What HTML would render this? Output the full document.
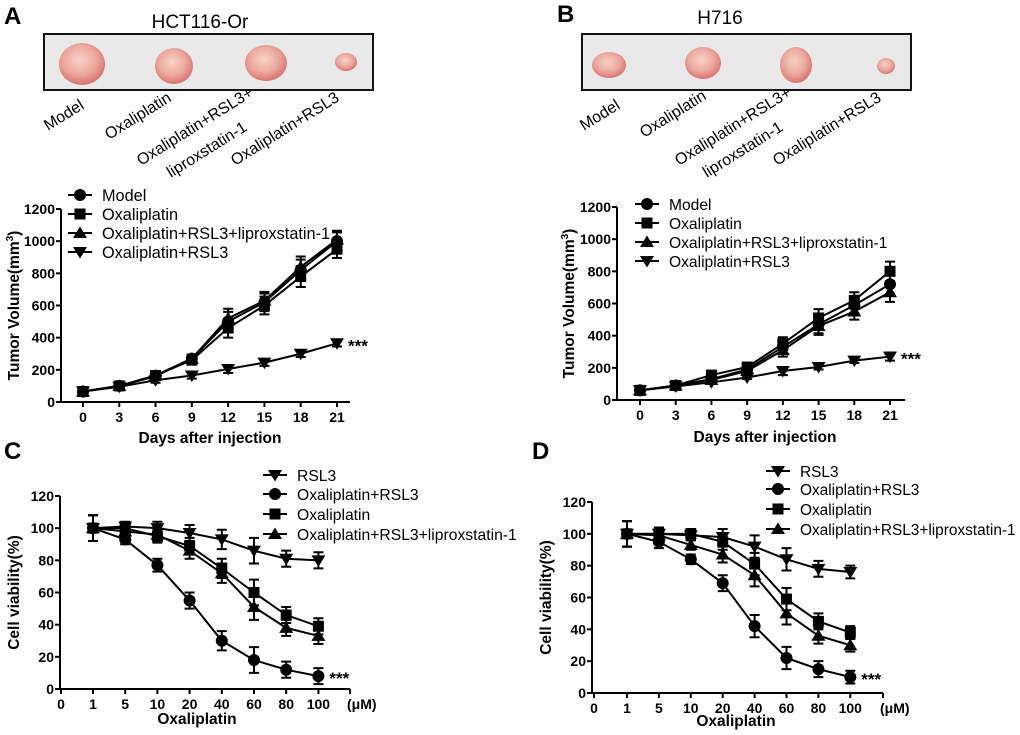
<!DOCTYPE html>
<html><head><meta charset="utf-8"><style>
html,body{margin:0;padding:0;background:#fff;}
svg{display:block;font-family:"Liberation Sans",Arial,sans-serif;}
.tk{font-size:14px;font-weight:bold;}
.ttl{font-size:15.5px;font-weight:bold;}
</style></head><body>
<svg id="fig" width="1020" height="735" viewBox="0 0 1020 735">
<defs>
<radialGradient id="tum" cx="45%" cy="40%" r="60%"><stop offset="0" stop-color="#f6d3c6"/><stop offset="0.6" stop-color="#eca79d"/><stop offset="1" stop-color="#d9736f"/></radialGradient>
</defs>
<text x="4" y="24" font-size="24" font-weight="bold">A</text>
<text x="200" y="28" font-size="19" text-anchor="middle">HCT116-Or</text>
<rect x="44" y="34" width="329" height="56" fill="#e9e9e9" stroke="#111" stroke-width="2"/>
<ellipse cx="82" cy="64" rx="23" ry="21" fill="url(#tum)"/>
<ellipse cx="174" cy="66" rx="19" ry="18" fill="url(#tum)"/>
<ellipse cx="266" cy="63" rx="21" ry="18" fill="url(#tum)"/>
<ellipse cx="346" cy="62" rx="11" ry="9" fill="url(#tum)"/>
<g font-size="16">
<text transform="translate(48,131) rotate(-32)">Model</text>
<text transform="translate(109,140) rotate(-32)">Oxaliplatin</text>
<text transform="translate(141,166) rotate(-32)">Oxaliplatin+RSL3+</text>
<text transform="translate(171,178) rotate(-32)">liproxstatin-1</text>
<text transform="translate(235,166) rotate(-32)">Oxaliplatin+RSL3</text>
</g>
<text x="557" y="22" font-size="24" font-weight="bold">B</text>
<text x="720" y="24" font-size="19" text-anchor="middle">H716</text>
<rect x="582" y="34" width="329" height="56" fill="#e9e9e9" stroke="#111" stroke-width="2"/>
<ellipse cx="609" cy="65" rx="17" ry="13" fill="url(#tum)"/>
<ellipse cx="703" cy="63" rx="18" ry="16" fill="url(#tum)"/>
<ellipse cx="796" cy="65" rx="16" ry="18" fill="url(#tum)"/>
<ellipse cx="886" cy="66" rx="9" ry="8" fill="url(#tum)"/>
<g font-size="16">
<text transform="translate(584,131) rotate(-32)">Model</text>
<text transform="translate(644,138) rotate(-32)">Oxaliplatin</text>
<text transform="translate(679,166) rotate(-32)">Oxaliplatin+RSL3+</text>
<text transform="translate(707,178) rotate(-32)">liproxstatin-1</text>
<text transform="translate(777,166) rotate(-32)">Oxaliplatin+RSL3</text>
</g>
<text x="4" y="459" font-size="24" font-weight="bold">C</text>
<text x="532" y="459" font-size="24" font-weight="bold">D</text>
<g id="charts"></g>
</svg>
<script>
const days = [0,3,6,9,12,15,18,21];
const aModel = [65,100,160,270,500,620,820,1000];
const aOxali = [65,100,165,260,460,600,780,950];
const aORL = [65,100,165,270,520,630,840,1010];
const aOR = [65,95,135,165,205,245,300,365];
const aErr = [10,12,20,25,60,55,65,55];
const aErrOR = [8,10,15,20,25,20,20,20];
const bModel = [60,90,130,190,330,470,590,720];
const bOxali = [60,90,155,205,350,510,620,800];
const bORL = [60,90,125,180,310,460,550,670];
const bOR = [60,85,110,140,180,205,245,270];
const bErr = [8,10,15,15,40,55,50,60];
const bErrOR = [6,8,10,10,25,15,15,25];
const tumorTicks = [0,200,400,600,800,1000,1200];
const concLabels = ["0","1","5","10","20","40","60","80","100"];
const cRSL3 = [100,101,100,97,93,86,81,80];
const cOR = [100,93,77,55,30,18,12,8];
const cOxali = [100,100,95,89,75,60,46,39];
const cORL = [100,98,96,86,72,51,38,33];
const cErr = [8,3,4,5,6,8,5,5];
const dRSL3 = [100,100,99,98,92,84,78,76];
const dOR = [100,95,84,69,42,22,15,10];
const dOxali = [100,100,100,95,81,59,45,38];
const dORL = [100,99,93,87,74,50,36,30];
const dErr = [8,4,3,5,7,7,5,4];
const viaTicks = [0,20,40,60,80,100,120];

const NS="http://www.w3.org/2000/svg";
const root=document.getElementById('charts');
function mk(tag,attrs,parent){const e=document.createElementNS(NS,tag);for(const k in attrs)e.setAttribute(k,attrs[k]);(parent||root).appendChild(e);return e;}
function marker(g,shape,x,y,s){
  if(shape==='circle')return mk('circle',{cx:x,cy:y,r:s*0.6,fill:'#000'},g);
  if(shape==='square')return mk('rect',{x:x-s*0.55,y:y-s*0.55,width:s*1.1,height:s*1.1,fill:'#000'},g);
  if(shape==='up')return mk('polygon',{points:`${x},${y-s*0.65} ${x-s*0.7},${y+s*0.5} ${x+s*0.7},${y+s*0.5}`,fill:'#000'},g);
  return mk('polygon',{points:`${x},${y+s*0.65} ${x-s*0.7},${y-s*0.5} ${x+s*0.7},${y-s*0.5}`,fill:'#000'},g);
}
function chart(cfg){
  const g=mk('g',{});
  
  
  const sy=v=>cfg.y0-(v-cfg.ymin)/(cfg.ymax-cfg.ymin)*(cfg.y0-cfg.y1);
  const ax=mk('path',{d:`M${cfg.ax},${cfg.y1} V${cfg.y0} H${cfg.axEnd}`,stroke:'#000','stroke-width':2,fill:'none'},g);
  
  
  cfg.yt.forEach(v=>{
    mk('line',{x1:cfg.ax-5,x2:cfg.ax,y1:sy(v),y2:sy(v),stroke:'#000','stroke-width':2},g);
    const t=mk('text',{x:cfg.ax-6,y:sy(v)+5,'text-anchor':'end',class:'tk'},g);t.textContent=v;
    
    
  });
  cfg.xlabels.forEach((lab,i)=>{
    const x=cfg.sx(i);
    mk('line',{x1:x,x2:x,y1:cfg.y0,y2:cfg.y0+5,stroke:'#000','stroke-width':2},g);
    const t=mk('text',{x:x,y:cfg.y0+20,'text-anchor':'middle',class:'tk'},g);t.textContent=lab;
    
    
  });
  if(cfg.unit){mk('line',{x1:cfg.axEnd,x2:cfg.axEnd,y1:cfg.y0,y2:cfg.y0+5,stroke:'#000','stroke-width':2},g);
    const u=mk('text',{x:cfg.axEnd-3,y:cfg.y0+20,class:'tk'},g);u.textContent='(μM)';
    
    }
  const yt=mk('text',{transform:`translate(${cfg.ytx},${(cfg.y0+cfg.y1)/2}) rotate(-90)`,'text-anchor':'middle',class:'ttl'},g);
  yt.innerHTML=cfg.ytitle;
  
  
  const xt=mk('text',{x:cfg.xtx,y:cfg.xty,'text-anchor':'middle',class:'ttl'},g);xt.textContent=cfg.xtitle;
  
  
  cfg.series.forEach(s=>{
    const sg=mk('g',{},g);
    
    
    const pts=s.v.map((v,i)=>[cfg.sx(i+cfg.off),sy(v)]);
    mk('polyline',{points:pts.map(p=>p.join(',')).join(' '),fill:'none',stroke:'#000','stroke-width':2},sg);
    s.v.forEach((v,i)=>{
      const x=pts[i][0],e=s.e[i];
      mk('path',{d:`M${x},${sy(v+e)} V${sy(v-e)} M${x-5},${sy(v+e)} H${x+5} M${x-5},${sy(v-e)} H${x+5}`,stroke:'#000','stroke-width':2,fill:'none'},sg);
      const m=marker(sg,s.shape,x,pts[i][1],10);
      
      
    });
  });
  const last=cfg.series.find(s=>s.star);
  const st=mk('text',{x:cfg.sx(last.v.length-1+cfg.off)+11,y:sy(last.v[last.v.length-1])+8,'font-size':'17','font-weight':'bold'},g);st.textContent='***';
  
  
  cfg.series.slice().sort((a,b)=>a.lo-b.lo).forEach((s,i)=>{
    const lg=mk('g',{},g);
    
    
    const y=cfg.lgY[i];
    mk('line',{x1:cfg.lgX-12,x2:cfg.lgX+12,y1:y,y2:y,stroke:'#000','stroke-width':2},lg);
    marker(lg,s.shape,cfg.lgX,y,10);
    const t=mk('text',{x:cfg.lgX+22,y:y+6,'font-size':cfg.lgFs},lg);t.textContent=s.label;
  });
}
const tumorSx=(x0,x1)=>i=>x0+(x1-x0)*days[i]/21;
const concSx=(xa,x1,step)=>i=>i===0?xa:x1+(i-1)*step;
const dayLabels=days.map(String);
chart({name:'chart-a-tumor-volume',ax:61,axEnd:350,y0:402,y1:209,ymin:0,ymax:1200,yt:tumorTicks,xlabels:dayLabels,sx:tumorSx(83,337),off:0,
  ytitle:'Tumor Volume(mm<tspan dy="-6" font-size="10">3</tspan><tspan dy="6">)</tspan>',ytx:19,xtitle:'Days after injection',xtx:210,xty:443,
  series:[{key:'model',label:'Model',shape:'circle',v:aModel,e:aErr,lo:0},{key:'oxaliplatin',label:'Oxaliplatin',shape:'square',v:aOxali,e:aErr,lo:1},
  {key:'orl',label:'Oxaliplatin+RSL3+liproxstatin-1',shape:'up',v:aORL,e:aErr,lo:2},{key:'or',label:'Oxaliplatin+RSL3',shape:'down',v:aOR,e:aErrOR,lo:3,star:true}],
  lgX:80,lgY:[195,214,233,252],lgFs:16.3});
chart({name:'chart-b-tumor-volume',ax:617,axEnd:905,y0:400,y1:207,ymin:0,ymax:1200,yt:tumorTicks,xlabels:dayLabels,sx:tumorSx(640,890),off:0,
  ytitle:'Tumor Volume(mm<tspan dy="-6" font-size="10">3</tspan><tspan dy="6">)</tspan>',ytx:574,xtitle:'Days after injection',xtx:765,xty:442,
  series:[{key:'model',label:'Model',shape:'circle',v:bModel,e:bErr,lo:0},{key:'oxaliplatin',label:'Oxaliplatin',shape:'square',v:bOxali,e:bErr,lo:1},
  {key:'orl',label:'Oxaliplatin+RSL3+liproxstatin-1',shape:'up',v:bORL,e:bErr,lo:2},{key:'or',label:'Oxaliplatin+RSL3',shape:'down',v:bOR,e:bErrOR,lo:3,star:true}],
  lgX:647,lgY:[204,223,242,261],lgFs:15.6});
chart({name:'chart-c-cell-viability',ax:60,axEnd:350,y0:689,y1:496,ymin:0,ymax:120,yt:viaTicks,xlabels:concLabels,sx:concSx(61,93,32.2),off:1,unit:true,
  ytitle:'Cell viability(%)',ytx:19,xtitle:'Oxaliplatin',xtx:197,xty:724,
  series:[{key:'rsl3',label:'RSL3',shape:'down',v:cRSL3,e:cErr,lo:0},{key:'or',label:'Oxaliplatin+RSL3',shape:'circle',v:cOR,e:cErr,lo:1,star:true},
  {key:'oxaliplatin',label:'Oxaliplatin',shape:'square',v:cOxali,e:cErr,lo:2},{key:'orl',label:'Oxaliplatin+RSL3+liproxstatin-1',shape:'up',v:cORL,e:cErr,lo:3}],
  lgX:275,lgY:[475,494,514,534],lgFs:15.7});
chart({name:'chart-d-cell-viability',ax:592,axEnd:883,y0:693,y1:502,ymin:0,ymax:120,yt:viaTicks,xlabels:concLabels,sx:concSx(594,627,31.9),off:1,unit:true,
  ytitle:'Cell viability(%)',ytx:551,xtitle:'Oxaliplatin',xtx:736,xty:726,
  series:[{key:'rsl3',label:'RSL3',shape:'down',v:dRSL3,e:dErr,lo:0},{key:'or',label:'Oxaliplatin+RSL3',shape:'circle',v:dOR,e:dErr,lo:1,star:true},
  {key:'oxaliplatin',label:'Oxaliplatin',shape:'square',v:dOxali,e:dErr,lo:2},{key:'orl',label:'Oxaliplatin+RSL3+liproxstatin-1',shape:'up',v:dORL,e:dErr,lo:3}],
  lgX:778,lgY:[471,489,509,529],lgFs:15.4});
</script>
</body></html>
